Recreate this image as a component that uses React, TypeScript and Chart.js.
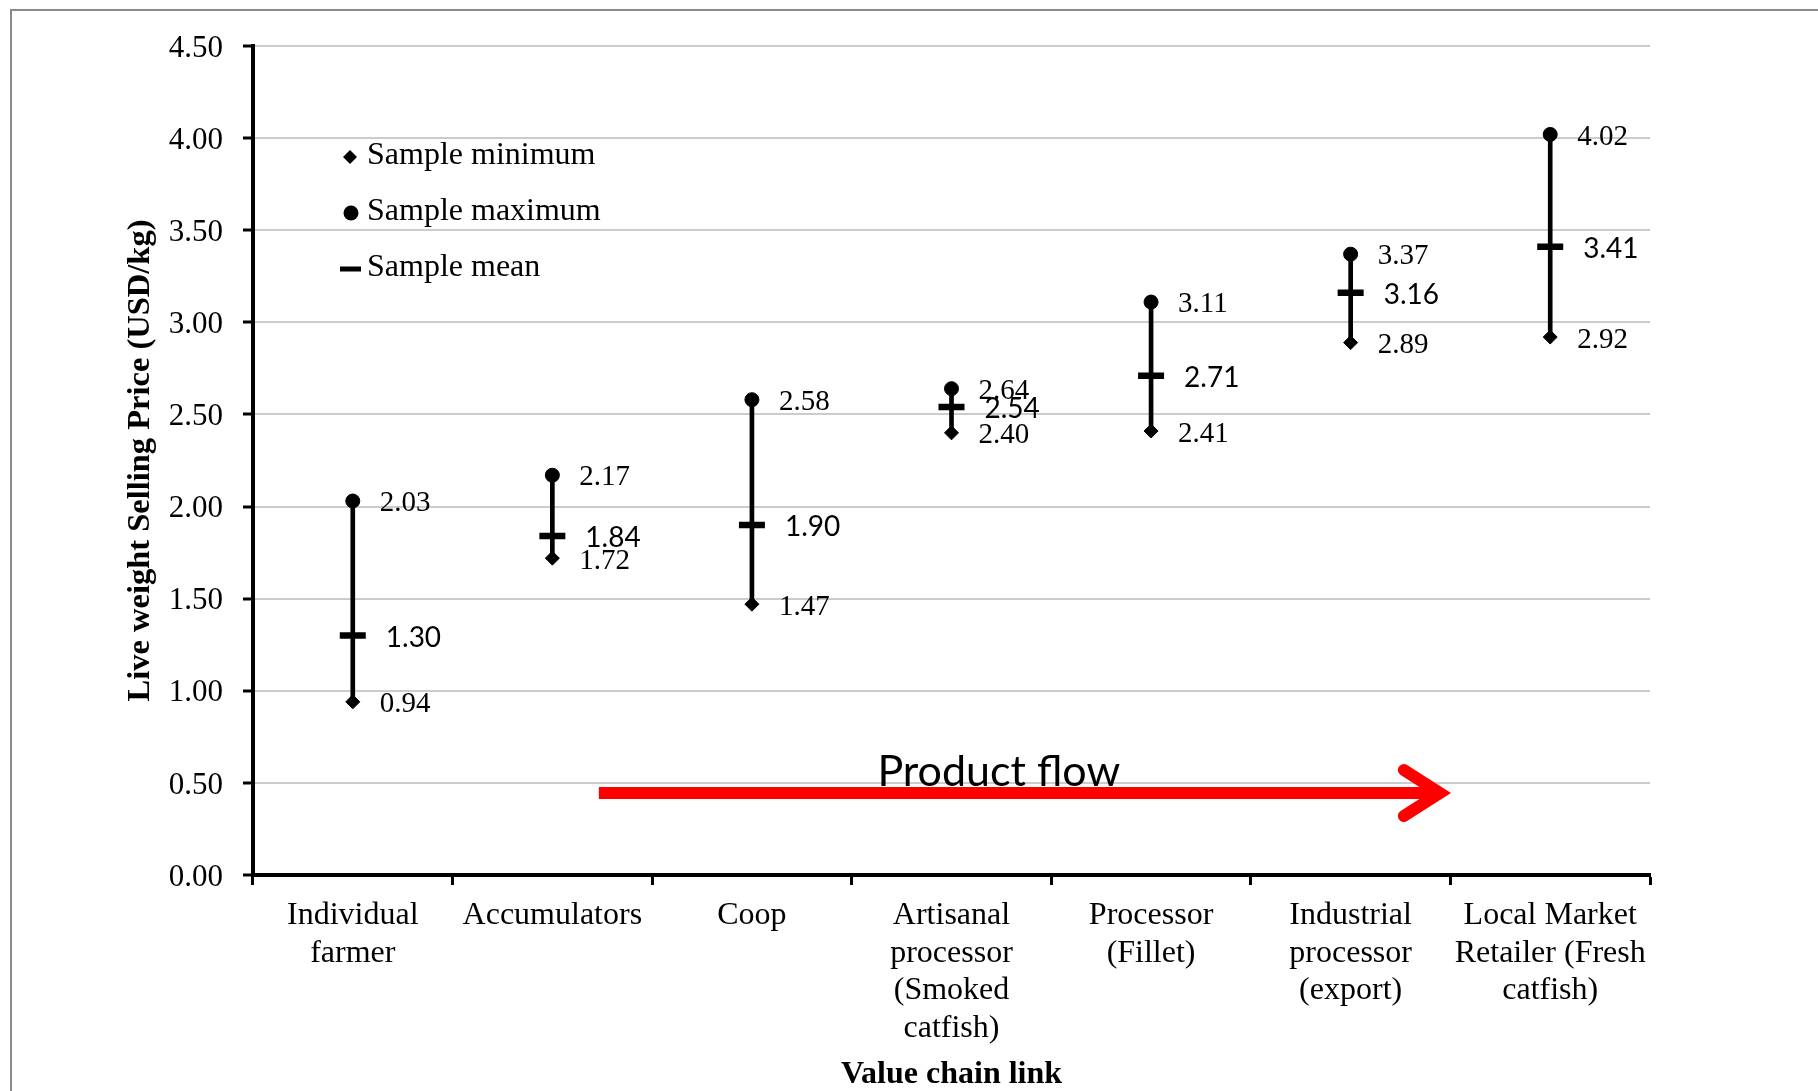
import React, { useEffect, useRef } from "react";
import { Chart, registerables } from "chart.js";

Chart.register(...registerables);

// ---- data ----
const categories: string[][] = [
  ["Individual", "farmer"],
  ["Accumulators"],
  ["Coop"],
  ["Artisanal", "processor", "(Smoked", "catfish)"],
  ["Processor", "(Fillet)"],
  ["Industrial", "processor", "(export)"],
  ["Local Market", "Retailer (Fresh", "catfish)"],
];
const sampleMin = [0.94, 1.72, 1.47, 2.4, 2.41, 2.89, 2.92];
const sampleMax = [2.03, 2.17, 2.58, 2.64, 3.11, 3.37, 4.02];
const sampleMean = [1.3, 1.84, 1.9, 2.54, 2.71, 3.16, 3.41];
const legendLabels = ["Sample minimum", "Sample maximum", "Sample mean"];
const yTitle = "Live weight Selling Price (USD/kg)";
const xTitle = "Value chain link";
const flowLabel = "Product flow";
const yMin = 0;
const yMax = 4.5;
const yStep = 0.5;

// annotation anchor (in data space: category index / value)
const flowArrowY = 0.445;
const flowArrowStart = 1.233;
const flowArrowTip = 5.447;
const flowLabelX = 3.237;
const flowLabelY = 0.483;

const SERIF = '"Liberation Serif", "Times New Roman", serif';
const SANS = 'Lato, "Open Sans", sans-serif';

const decorPlugin = {
  id: "decor",
  beforeDraw(chart: any) {
    const { ctx, width, height } = chart;
    ctx.save();
    ctx.fillStyle = "#ffffff";
    ctx.fillRect(0, 0, width, height);
    ctx.strokeStyle = "#8a8a8a";
    ctx.lineWidth = 2;
    ctx.beginPath();
    ctx.moveTo(11, height + 5);
    ctx.lineTo(11, 10);
    ctx.lineTo(width + 5, 10);
    ctx.stroke();
    ctx.restore();
  },
  afterDatasetsDraw(chart: any) {
    const ctx = chart.ctx;
    ctx.save();
    ctx.fillStyle = "#000";
    ctx.textBaseline = "middle";
    ctx.textAlign = "left";
    const drawLabels = (dsIndex: number, values: number[], font: string, dx: number, dy: number) => {
      const meta = chart.getDatasetMeta(dsIndex);
      ctx.font = font;
      meta.data.forEach((pt: any, i: number) => {
        ctx.fillText(values[i].toFixed(2), pt.x + dx, pt.y + dy);
      });
    };
    drawLabels(1, sampleMin, `29px ${SERIF}`, 27, 3);
    drawLabels(2, sampleMax, `29px ${SERIF}`, 27, 2.5);
    drawLabels(3, sampleMean, `28px ${SANS}`, 33, 2);
    ctx.restore();
  },
  afterDraw(chart: any) {
    const ctx = chart.ctx;
    const xs = chart.scales.x;
    const ys = chart.scales.y;
    const area = chart.chartArea;
    ctx.save();

    // legend
    const lx = area.left + 97;
    const ly0 = area.top + 110;
    const gap = 56;
    ctx.fillStyle = "#000";
    ctx.font = `32px ${SERIF}`;
    ctx.textBaseline = "middle";
    ctx.textAlign = "left";
    legendLabels.forEach((t, i) => {
      const cy = ly0 + i * gap;
      const my = cy + 1;
      ctx.beginPath();
      if (i === 0) {
        ctx.moveTo(lx - 7, my);
        ctx.lineTo(lx, my - 7);
        ctx.lineTo(lx + 7, my);
        ctx.lineTo(lx, my + 7);
        ctx.closePath();
        ctx.fill();
      } else if (i === 1) {
        ctx.arc(lx + 1, my, 7.5, 0, Math.PI * 2);
        ctx.fill();
      } else {
        ctx.fillRect(lx - 10, my - 2.5, 21, 5);
      }
      ctx.fillText(t, lx + 17, cy);
    });

    // product flow arrow
    const ay = ys.getPixelForValue(flowArrowY);
    const ax0 = xs.getPixelForValue(flowArrowStart);
    const ax1 = xs.getPixelForValue(flowArrowTip);
    ctx.strokeStyle = "#ff0000";
    ctx.lineWidth = 12;
    ctx.lineCap = "butt";
    ctx.beginPath();
    ctx.moveTo(ax0, ay);
    ctx.lineTo(ax1 - 4, ay);
    ctx.stroke();
    ctx.lineCap = "round";
    ctx.lineJoin = "miter";
    ctx.miterLimit = 10;
    ctx.beginPath();
    ctx.moveTo(ax1 - 36, ay - 23);
    ctx.lineTo(ax1, ay);
    ctx.lineTo(ax1 - 36, ay + 23);
    ctx.stroke();

    ctx.fillStyle = "#000";
    ctx.font = `43px ${SANS}`;
    ctx.textAlign = "center";
    ctx.textBaseline = "alphabetic";
    ctx.fillText(flowLabel, xs.getPixelForValue(flowLabelX), ys.getPixelForValue(flowLabelY));
    ctx.restore();
  },
};

export default function App() {
  const ref = useRef<HTMLCanvasElement | null>(null);
  useEffect(() => {
    if (!ref.current) return;
    const chart = new Chart(ref.current, {
      type: "bar",
      data: {
        labels: categories as any,
        datasets: [
          {
            type: "bar",
            label: "range",
            data: sampleMin.map((m, i) => [m, sampleMax[i]]) as any,
            backgroundColor: "#000",
            borderWidth: 0,
            barThickness: 4,
            order: 5,
          },
          {
            type: "line",
            label: legendLabels[0],
            data: sampleMin,
            showLine: false,
            pointStyle: "rectRot",
            pointRadius: 7,
            pointBackgroundColor: "#000",
            pointBorderColor: "#000",
            pointBorderWidth: 1,
            order: 1,
          },
          {
            type: "line",
            label: legendLabels[1],
            data: sampleMax,
            showLine: false,
            pointStyle: "circle",
            pointRadius: 7,
            pointBackgroundColor: "#000",
            pointBorderColor: "#000",
            pointBorderWidth: 1,
            order: 1,
          },
          {
            type: "line",
            label: legendLabels[2],
            data: sampleMean,
            showLine: false,
            pointStyle: "line",
            pointRadius: 13,
            pointBorderColor: "#000",
            pointBorderWidth: 6.5,
            order: 1,
          },
        ],
      },
      options: {
        responsive: false,
        animation: false,
        devicePixelRatio: 1,
        layout: { padding: { left: 121, top: 46, right: 168, bottom: 0 } },
        plugins: {
          legend: { display: false },
          tooltip: { enabled: false },
        },
        scales: {
          x: {
            type: "category",
            offset: true,
            grid: {
              offset: true,
              drawOnChartArea: false,
              drawTicks: true,
              tickLength: 10,
              tickWidth: 3,
              tickColor: "#000",
            },
            border: { color: "#000", width: 4 },
            ticks: {
              autoSkip: false,
              maxRotation: 0,
              minRotation: 0,
              padding: 11.5,
              color: "#000",
              font: { family: SERIF, size: 32, lineHeight: 1.18 },
            },
            title: {
              display: true,
              text: xTitle,
              color: "#000",
              padding: 0,
              font: { family: SERIF, size: 32, weight: "bold", lineHeight: 1.0 },
            },
            afterFit: (s: any) => {
              s.height = 216;
            },
          },
          y: {
            min: yMin,
            max: yMax,
            grid: {
              color: (c: any) => (c.tick && c.tick.value === 0 ? "rgba(0,0,0,0)" : "#cccccc"),
              lineWidth: 2,
              drawTicks: true,
              tickLength: 10,
              tickWidth: 3,
              tickColor: "#000",
            },
            border: { color: "#000", width: 4 },
            ticks: {
              stepSize: yStep,
              padding: 20,
              labelOffset: 2.5,
              color: "#000",
              font: { family: SERIF, size: 31 },
              callback: (v: any) => Number(v).toFixed(2),
            },
            title: {
              display: true,
              text: yTitle,
              color: "#000",
              padding: 0,
              font: { family: SERIF, size: 32.5, weight: "bold", lineHeight: 1.2 },
            },
            afterFit: (s: any) => {
              s.width = 132;
            },
          },
        },
      } as any,
      plugins: [decorPlugin],
    });
    return () => chart.destroy();
  }, []);
  return (
    <div style={{ position: "absolute", left: 0, top: 0, width: 1818, height: 1091, background: "#fff" }}>
      <canvas ref={ref} width={1818} height={1091} style={{ display: "block", width: 1818, height: 1091 }} />
    </div>
  );
}
